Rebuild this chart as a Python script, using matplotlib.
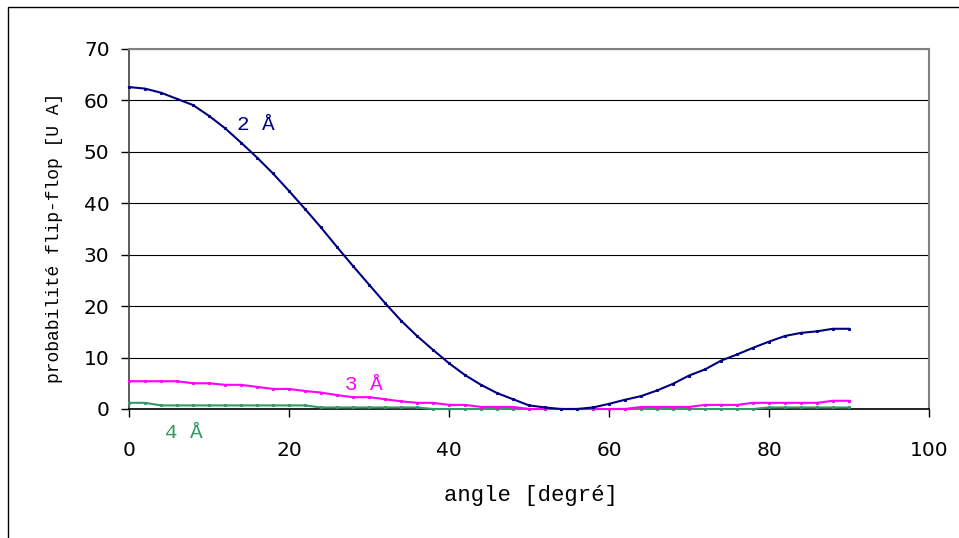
import numpy as np
import matplotlib
matplotlib.use('Agg')
import matplotlib.pyplot as plt
from matplotlib.patches import Rectangle

# angle values (degrees), one point every 2 degrees
angle = list(range(0, 92, 2))

# flip-flop probability
p_2A = [62.6, 62.3, 61.5, 60.3, 59.1, 57.0, 54.6, 51.8, 48.9, 45.8,
        42.4, 38.9, 35.3, 31.5, 27.8, 24.2, 20.6, 17.2, 14.2, 11.5,
        8.9, 6.6, 4.7, 3.1, 1.9, 0.7, 0.3, 0.0, 0.0, 0.3,
        1.0, 1.8, 2.5, 3.6, 4.9, 6.5, 7.7, 9.4, 10.6, 11.9,
        13.1, 14.2, 14.8, 15.1, 15.6, 15.6]
p_3A = [5.4, 5.4, 5.4, 5.4, 5.0, 5.0, 4.7, 4.7, 4.3, 3.9,
        3.9, 3.5, 3.2, 2.7, 2.3, 2.3, 1.9, 1.5, 1.2, 1.2,
        0.8, 0.8, 0.4, 0.4, 0.4, 0.0, 0.0, 0.0, 0.0, 0.0,
        0.0, 0.0, 0.4, 0.4, 0.4, 0.4, 0.8, 0.8, 0.8, 1.2,
        1.2, 1.2, 1.2, 1.2, 1.6, 1.6]
p_4A = [1.2, 1.2, 0.7, 0.7, 0.7, 0.7, 0.7, 0.7, 0.7, 0.7,
        0.7, 0.7, 0.3, 0.3, 0.3, 0.3, 0.3, 0.3, 0.3, 0.0,
        0.0, 0.0, 0.0, 0.0, 0.0, 0.0, 0.0, 0.0, 0.0, 0.0,
        0.0, 0.0, 0.0, 0.0, 0.0, 0.0, 0.0, 0.0, 0.0, 0.0,
        0.3, 0.3, 0.3, 0.3, 0.3, 0.3]

series = [
    (p_2A, '#000080', '2 Å', 15.9, 55.4),
    (p_3A, '#ff00ff', '3 Å', 29.4, 4.7),
    (p_4A, '#339966', '4 Å', 6.8, -4.5),
]

mono = 'Liberation Mono'

fig = plt.figure(figsize=(9.59, 5.38), dpi=100)
W, H = 959, 538
ax = fig.add_axes([129 / W, 1 - 409 / H, 800 / W, 360 / H])

# outer chart border (only top and left edges visible in the reference)
fig.patches.append(Rectangle((8 / W, -0.1), 1.2, 1 - 7 / H + 0.1,
                             transform=fig.transFigure, fill=False,
                             edgecolor='black', linewidth=1.0))

for vals, col, lab, tx, ty in series[::-1]:
    ax.plot(angle, vals, color=col, linewidth=1.5, marker='s',
            markersize=1.2, zorder=3, clip_on=False)
for vals, col, lab, tx, ty in series:
    ax.text(tx, ty, lab, color=col, fontsize=15, family=mono,
            ha='center', va='center', clip_on=False)

ax.set_xlim(0, 100)
ax.set_ylim(0, 70)
ax.set_xticks(range(0, 101, 20))
ax.set_yticks(range(0, 71, 10))
ax.yaxis.grid(True, color='black', linewidth=0.8)
ax.set_axisbelow(True)

for s in ['top', 'right']:
    ax.spines[s].set_color('#808080')
    ax.spines[s].set_linewidth(1.5)
ax.spines['left'].set_color('#404040')
ax.spines['left'].set_linewidth(1.2)
ax.spines['bottom'].set_color('black')
ax.spines['bottom'].set_linewidth(1.2)

ax.tick_params(axis='x', direction='out', length=6, width=1, pad=17,
               labelsize=14.5)
ax.tick_params(axis='y', direction='out', length=6, width=1, pad=8,
               labelsize=14.5)

fig.text(531 / W, 1 - 495 / H, 'angle [degré]', family=mono, fontsize=16,
         ha='center', va='center')
fig.text(55 / W, 1 - 238 / H, 'probabilité flip-flop [U A]', family=mono,
         fontsize=13, ha='center', va='center', rotation=90)

fig.savefig('out.png', dpi=100)
